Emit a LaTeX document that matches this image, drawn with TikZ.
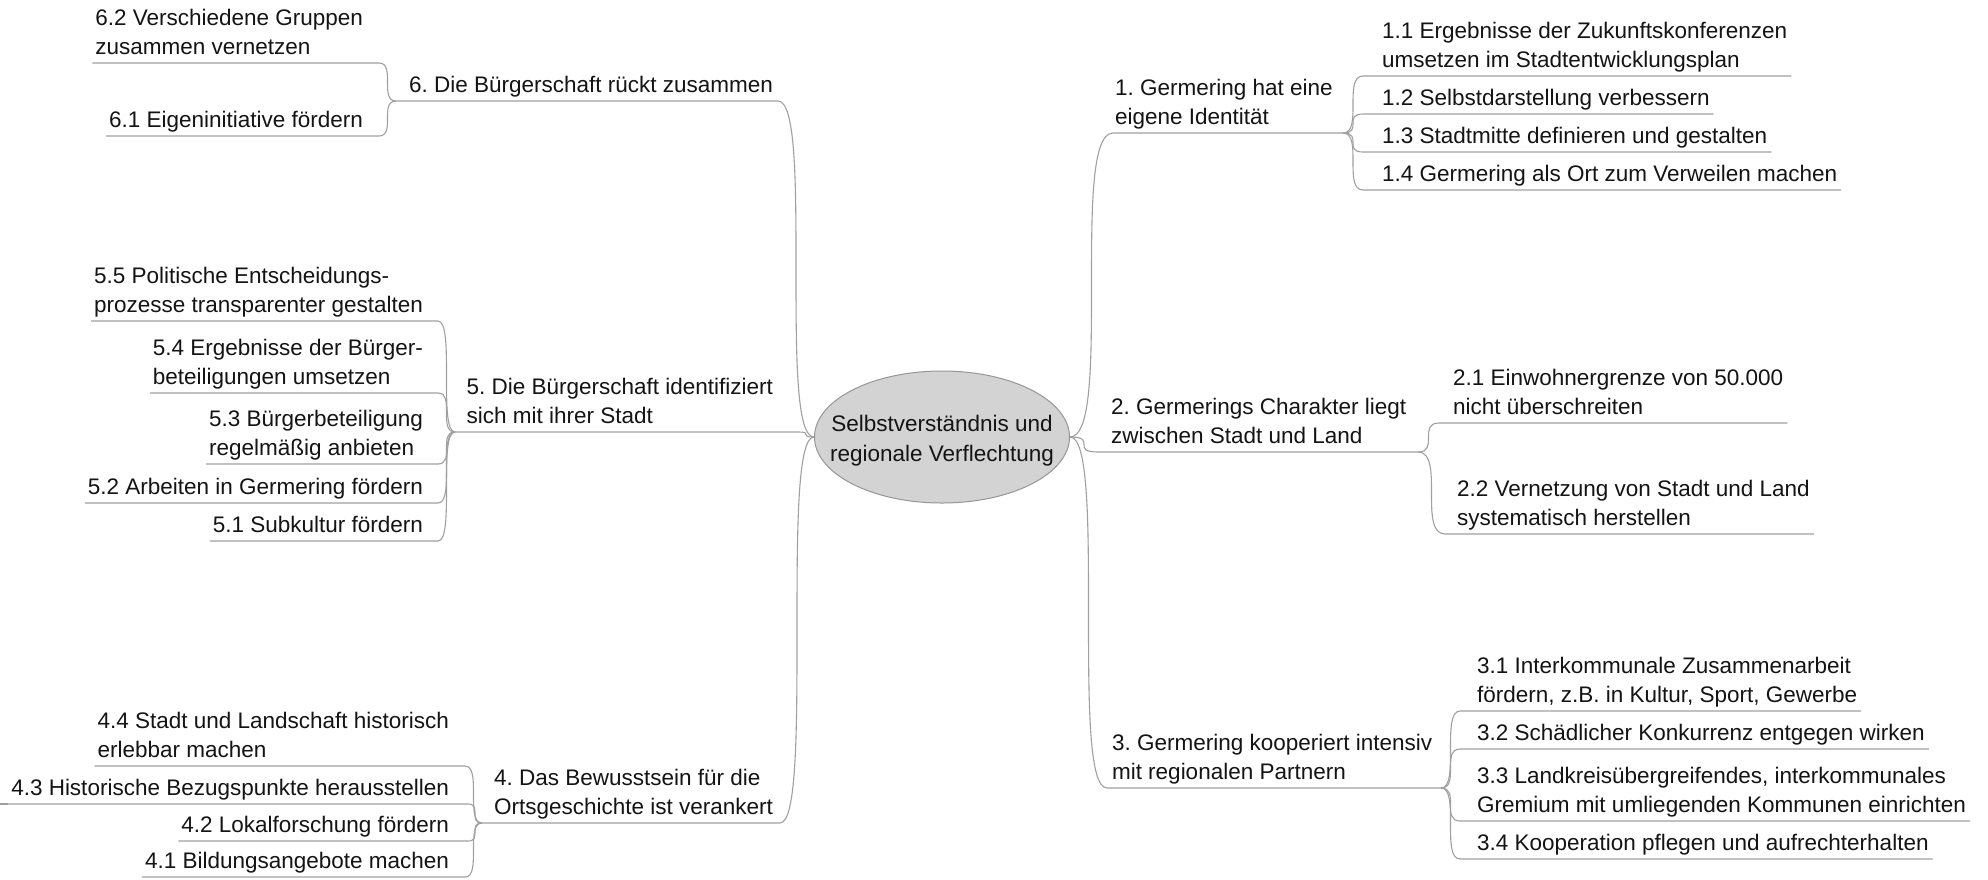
\documentclass[tikz,border=0pt]{standalone}
\usepackage{fontspec}
\setmainfont{Liberation Sans}
\usetikzlibrary{shapes.geometric,calc}
\frenchspacing

\definecolor{linkgray}{RGB}{160,160,160}
\definecolor{rootfill}{RGB}{211,211,211}
\definecolor{rootdraw}{RGB}{150,150,150}

% multi-line text blocks, baseline on the last line
\newcommand\ml[1]{\begin{tabular}[b]{@{}l@{}}#1\end{tabular}}
\newcommand\mlc[1]{\begin{tabular}[b]{@{}c@{}}#1\end{tabular}}

% sub-topic on the left: name, text right x, underline y, underline end x, junction, text
\newcommand\leftsub[6]{%
  \node[item, anchor=base east] (#1) at (#2,#3-8.5) {\ml{#6}};
  \coordinate (#1a) at ($(#1.base west)+(-3,8.5)$);
  \coordinate (#1b) at (#4,#3);
  \draw[link] (#1a) -- (#1b) .. controls (#5 |- #1b) and (#1b |- #5) .. (#5);
}
% sub-topic on the right: name, text left x, underline y, underline start x, junction, text
\newcommand\rightsub[6]{%
  \node[item, anchor=base west] (#1) at (#2,#3-8.5) {\ml{#6}};
  \coordinate (#1a) at (#4,#3);
  \coordinate (#1b) at ($(#1.base east)+(4,8.5)$);
  \draw[link] (#5) .. controls (#1a |- #5) and (#5 |- #1a) .. (#1a) -- (#1b);
}

\tikzset{
  item/.style={inner sep=0pt, outer sep=0pt,
    font=\fontsize{22.5}{29.5}\selectfont\frenchspacing, text=black!92},
  link/.style={draw=linkgray, line width=1.1pt},
}

\begin{document}
\begin{tikzpicture}[x=1pt, y=-1pt]
\fill[white] (0,0) rectangle (1988,879);
\useasboundingbox (0,0) rectangle (1988,879);

% central topic
\node[ellipse, draw=rootdraw, fill=rootfill, line width=1pt,
      minimum width=255pt, minimum height=132pt, inner sep=0pt] (root) at (942,437) {};
\node[item, anchor=base] (roottext) at (942,461)
  {\mlc{Selbstverständnis und\\regionale Verflechtung}};

% ---- left branches ----
\node[item, anchor=base east] (m6) at (773,92.5) {\ml{6. Die Bürgerschaft rückt zusammen}};
\coordinate (J6) at (396,101);
\coordinate (m6r) at (778,101);
\draw[link] (J6) -- (m6r) .. controls (root.west |- m6r) and (m6r |- root.west) .. (root.west);

\node[item, anchor=base east] (m5) at (773,423.5) {\ml{5. Die Bürgerschaft identifiziert\\sich mit ihrer Stadt}};
\coordinate (J5) at (455,432);
\coordinate (m5r) at (798,432);
\draw[link] (J5) -- (m5r) .. controls (root.west |- m5r) and (m5r |- root.west) .. (root.west);

\node[item, anchor=base east] (m4) at (773,814.5) {\ml{4. Das Bewusstsein für die\\Ortsgeschichte ist verankert}};
\coordinate (J4) at (482,823);
\coordinate (m4r) at (780,823);
\draw[link] (J4) -- (m4r) .. controls (root.west |- m4r) and (m4r |- root.west) .. (root.west);

\leftsub{c62}{363}{63}{379}{J6}{6.2 Verschiedene Gruppen\\zusammen vernetzen}
\leftsub{c61}{363}{136}{379}{J6}{6.1 Eigeninitiative fördern}

\leftsub{c55}{423}{321}{438}{J5}{5.5 Politische Entscheidungs-\\prozesse transparenter gestalten}
\leftsub{c54}{423}{393}{438}{J5}{5.4 Ergebnisse der Bürger-\\beteiligungen umsetzen}
\leftsub{c53}{423}{464}{438}{J5}{5.3 Bürgerbeteiligung\\regelmäßig anbieten}
\leftsub{c52}{423}{503}{438}{J5}{5.2 Arbeiten in Germering fördern}
\leftsub{c51}{423}{541}{438}{J5}{5.1 Subkultur fördern}

\leftsub{c44}{449}{766}{465}{J4}{4.4 Stadt und Landschaft historisch\\erlebbar machen}
\leftsub{c43}{449}{804}{468}{J4}{4.3 Historische Bezugspunkte herausstellen}
\leftsub{c42}{449}{841}{468}{J4}{4.2 Lokalforschung fördern}
\leftsub{c41}{449}{877}{465}{J4}{4.1 Bildungsangebote machen}
% the 4.3 underline runs out to the left edge
\coordinate (c43edge) at (0,804);
\draw[link] (c43edge) -- (c43a);

% ---- right branches ----
\node[item, anchor=base west] (m1) at (1115,124.5) {\ml{1. Germering hat eine\\eigene Identität}};
\coordinate (m1l) at (1113,133);
\coordinate (J1) at (1343,133);
\draw[link] (root.east) .. controls (m1l |- root.east) and (root.east |- m1l) .. (m1l) -- (J1);

\node[item, anchor=base west] (m2) at (1111,443.5) {\ml{2. Germerings Charakter liegt\\zwischen Stadt und Land}};
\coordinate (m2l) at (1098,452);
\coordinate (J2) at (1418,452);
\draw[link] (root.east) .. controls (m2l |- root.east) and (root.east |- m2l) .. (m2l) -- (J2);

\node[item, anchor=base west] (m3) at (1112,779.5) {\ml{3. Germering kooperiert intensiv\\mit regionalen Partnern}};
\coordinate (m3l) at (1107,788);
\coordinate (J3) at (1441,788);
\draw[link] (root.east) .. controls (m3l |- root.east) and (root.east |- m3l) .. (m3l) -- (J3);

\rightsub{c11}{1382}{76}{1363}{J1}{1.1 Ergebnisse der Zukunftskonferenzen\\umsetzen im Stadtentwicklungsplan}
\rightsub{c12}{1382}{114}{1363}{J1}{1.2 Selbstdarstellung verbessern}
\rightsub{c13}{1382}{152}{1363}{J1}{1.3 Stadtmitte definieren und gestalten}
\rightsub{c14}{1382}{190}{1363}{J1}{1.4 Germering als Ort zum Verweilen machen}

\rightsub{c21}{1453}{423}{1439}{J2}{2.1 Einwohnergrenze von 50.000\\nicht überschreiten}
\rightsub{c22}{1457}{534}{1445}{J2}{2.2 Vernetzung von Stadt und Land\\systematisch herstellen}

\rightsub{c31}{1477}{711}{1460}{J3}{3.1 Interkommunale Zusammenarbeit\\fördern, z.B. in Kultur, Sport, Gewerbe}
\rightsub{c32}{1477}{749}{1460}{J3}{3.2 Schädlicher Konkurrenz entgegen wirken}
\rightsub{c33}{1477}{821}{1460}{J3}{3.3 Landkreisübergreifendes, interkommunales\\Gremium mit umliegenden Kommunen einrichten}
\rightsub{c34}{1477}{859}{1460}{J3}{3.4 Kooperation pflegen und aufrechterhalten}

\end{tikzpicture}
\end{document}
